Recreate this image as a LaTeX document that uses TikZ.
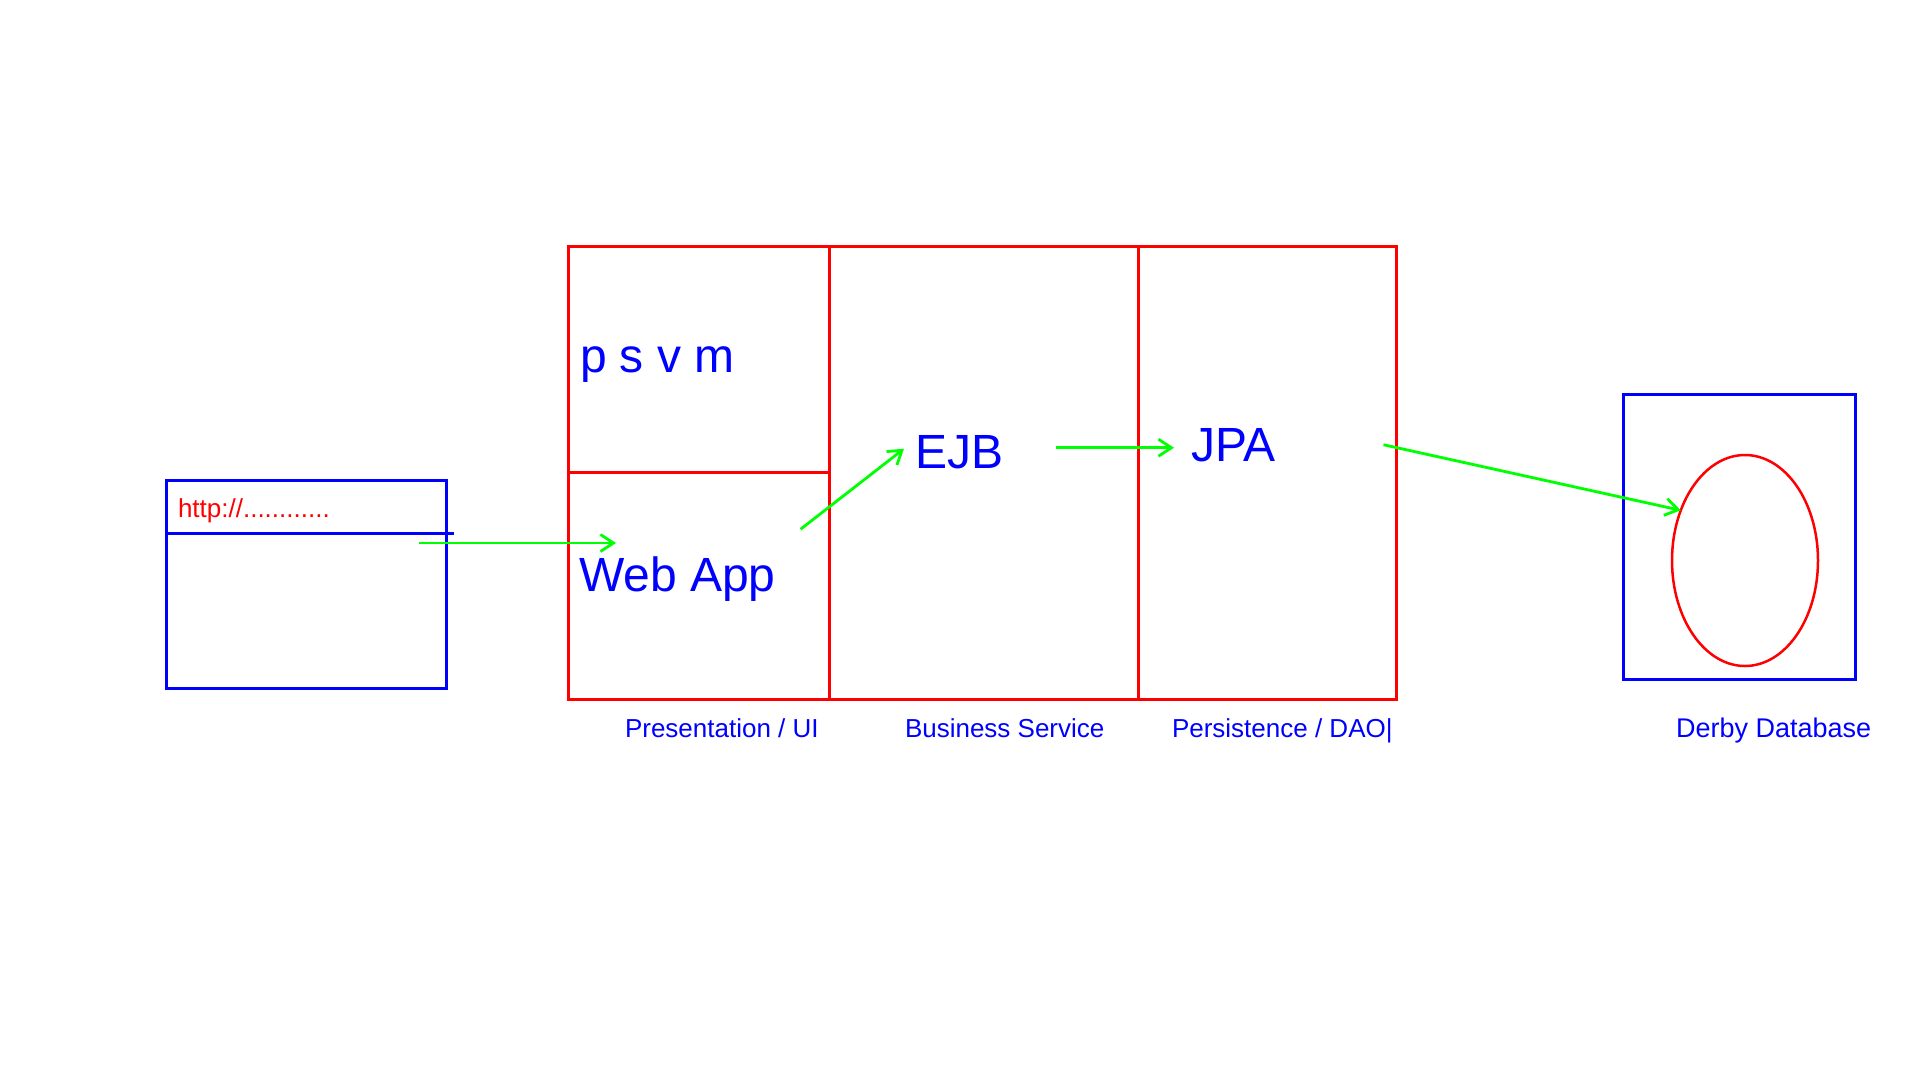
\documentclass[tikz,border=0pt]{standalone}
\usepackage{fontspec}
\setmainfont{Liberation Sans}
\usepackage{tikz}
\usetikzlibrary{shapes,shapes.misc,arrows.meta}

\begin{document}
\begin{tikzpicture}[x=1pt, y=-1pt, >={Straight Barb[length=13pt,width=17pt]},
        every node/.append style={inner sep=0pt, outer sep=0pt, anchor=base west, text=blue},
        big/.style={font=\fontsize{48}{56}\selectfont},
        small/.style={font=\fontsize{26}{30}\selectfont}]
      \tikzstyle{box} = [draw, anchor=north west, line width=3pt]
      \tikzstyle{tier} = [draw=red, line width=3pt]
      \tikzstyle{flow} = [->, draw=green, line width=2.8pt]
      \useasboundingbox (0,0) rectangle (1920,1080);
      % browser window
      \node (BROWSER) [box, blue, minimum width=280pt, minimum height=208pt] at (166,480) {};
      \draw[blue, line width=3pt] ([yshift=-53pt]BROWSER.north west) -- ++(288,0);
      \node (URL) [text=red, font=\fontsize{26}{30}\selectfont] at (178,517) {http://............};
      % application server
      \node (APP) [box, red, minimum width=828pt, minimum height=453pt] at (568,246) {};
      \draw[tier] ([xshift=261pt]APP.north west) -- ([xshift=261pt]APP.south west);
      \draw[tier] ([xshift=570pt]APP.north west) -- ([xshift=570pt]APP.south west);
      \draw[tier] (APP.west) -- ++(261,0);
      \node (PSVM) [big] at (580,372) {p s v m};
      \node (WEBAPP) [big] at (579,591) {Web App};
      \node (EJB) [big] at (915,468) {EJB};
      \node (JPA) [big] at (1191,461) {JPA};
      \node (PRES) [small] at (625,737) {Presentation / UI};
      \node (BIZ) [small] at (905,737) {Business Service};
      \node (PERS) [small] at (1172,737) {Persistence / DAO|};
      % database
      \node (DBBOX) [box, blue, minimum width=232pt, minimum height=285pt] at (1623,394) {};
      \node (DISK) [ellipse, draw=red, line width=2.5pt, anchor=center,
        minimum width=146pt, minimum height=211pt] at (1745,560.5) {};
      \node (DERBY) [small, font=\fontsize{27}{31}\selectfont] at (1676,737) {Derby Database};
      % calls
      \coordinate (URLOUT) at ([shift={(-27,-41)}]BROWSER.east);
      \coordinate (WEBIN) at ([xshift=37pt]WEBAPP.north west);
      \draw[flow] (URLOUT) -- (URLOUT -| WEBIN);
      \draw[flow] ([shift={(25,-27)}]WEBAPP.north east) -- ([shift={(-11,-3)}]EJB.west);
      \draw[flow] ([shift={(53,-4)}]EJB.east) -- ([shift={(-17,3)}]JPA.west);
      \draw[flow] ([xshift=108pt]JPA.east) -- (DISK.142);
    \end{tikzpicture}
\end{document}
